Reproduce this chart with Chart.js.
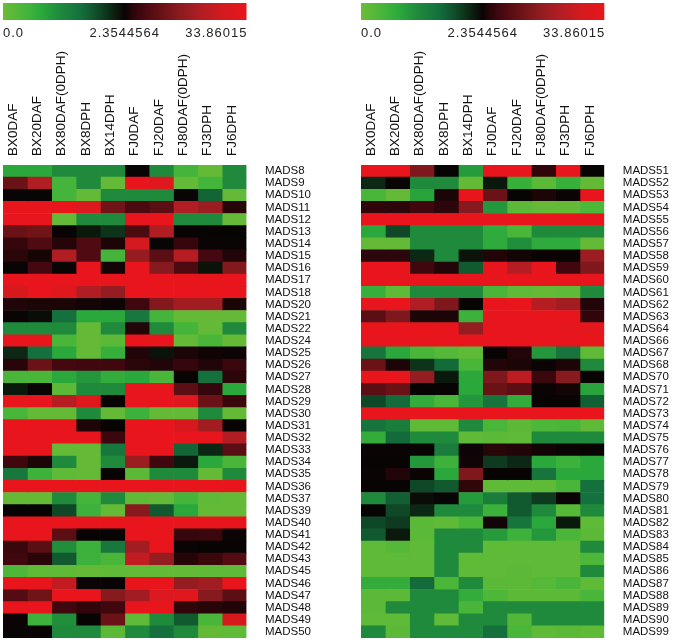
<!DOCTYPE html>
<html>
<head>
<meta charset="utf-8">
<script src="https://cdn.jsdelivr.net/npm/chart.js@4.4.1/dist/chart.umd.min.js"></script>
<style>
  body { margin: 0; background: #fff; width: 675px; height: 643px; overflow: hidden; position: relative; }
  canvas { position: absolute; top: 0; }
  #leftMap { left: 0; }
  #rightMap { left: 358px; }
</style>
</head>
<body>
<canvas id="leftMap" width="360" height="643"></canvas>
<canvas id="rightMap" width="317" height="643"></canvas>
<script>
  const samples = ["BX0DAF", "BX20DAF", "BX80DAF(0DPH)", "BX8DPH", "BX14DPH",
    "FJ0DAF", "FJ20DAF", "FJ80DAF(0DPH)", "FJ3DPH", "FJ6DPH"];

  const scaleMin = 0.0;
  const scaleMid = 2.3544564;
  const scaleMax = 33.86015;
  const scaleLabels = ["0.0", "2.3544564", "33.86015"];

  const leftGenes = ["MADS8", "MADS9", "MADS10", "MADS11", "MADS12", "MADS13", "MADS14",
    "MADS15", "MADS16", "MADS17", "MADS18", "MADS20", "MADS21", "MADS22", "MADS24",
    "MADS25", "MADS26", "MADS27", "MADS28", "MADS29", "MADS30", "MADS31", "MADS32",
    "MADS33", "MADS34", "MADS35", "MADS36", "MADS37", "MADS39", "MADS40", "MADS41",
    "MADS42", "MADS43", "MADS45", "MADS46", "MADS47", "MADS48", "MADS49", "MADS50"];

  const leftExpr = [
    [0.75, 0.75, 1.1, 1.1, 1.1, 2.35, 1.1, 0.45, 0.1, 1.1],
    [12, 22, 0.45, 1.1, 0.1, 33.8, 31, 0.1, 0.45, 1.1],
    [2.35, 2.35, 0.45, 0.1, 1.1, 1.1, 1.1, 2.35, 1.6, 0.1],
    [33.8, 33.8, 33.8, 30, 13, 8, 10, 22, 19, 4],
    [33.8, 33.8, 0.1, 1.1, 1.1, 33.8, 33.8, 1.1, 1.1, 0.1],
    [12, 13, 2.4, 2.2, 2.0, 8, 22, 2.4, 2.4, 2.4],
    [5.5, 8.5, 4, 8.5, 3.5, 28, 2.35, 5.5, 2.5, 2.35],
    [4.5, 3.2, 22, 8.5, 0.45, 18, 10, 23, 7, 3.8],
    [2.35, 7, 2.35, 33.8, 3, 33.8, 16, 8, 2.25, 15.5],
    [33.8, 33.8, 33.8, 33.8, 33.8, 33.8, 33.8, 33.8, 33.8, 33.8],
    [29, 33.8, 31.5, 22, 18, 33.8, 33.8, 33.8, 33.8, 33.8],
    [3.8, 3.4, 3.5, 3, 2.7, 6.5, 15.5, 20, 20, 3.5],
    [2.35, 2.3, 1.5, 0.75, 0.75, 1.4, 0.45, 0.1, 0.1, 0.1],
    [1.1, 1.1, 1.1, 0.1, 1.1, 3.8, 1.1, 0.45, 0.1, 1.1],
    [33.8, 33.8, 0.4, 0.1, 0.2, 33.8, 33.8, 0.1, 0.4, 0.1],
    [2.1, 1.5, 0.75, 0.1, 0.6, 3.8, 2.25, 3.5, 2.8, 2.6],
    [4.2, 12, 7, 6.5, 6.5, 4.5, 3.8, 5.5, 3.8, 6],
    [0.4, 0.4, 0.75, 0.95, 0.65, 0.75, 0.4, 2.4, 1.5, 4.5],
    [2.2, 2.35, 0.2, 1.1, 1.1, 33.8, 33.8, 10, 5.5, 0.75],
    [33.8, 33.8, 23, 31, 2.4, 33.8, 33.8, 31, 12, 6],
    [0.4, 0.1, 0.1, 1.1, 0.1, 0.55, 0.1, 0.1, 1.1, 0.1],
    [33.8, 33.8, 33.8, 3.6, 2.4, 33.8, 33.8, 29, 20, 2.4],
    [33.8, 33.8, 33.8, 33.8, 6, 33.8, 33.8, 33.8, 33.8, 22],
    [33.8, 33.8, 0.1, 0.1, 1.4, 33.8, 33.8, 1.6, 2.1, 10],
    [6.5, 3.5, 1.1, 0.1, 1.1, 19, 6.5, 2.2, 0.75, 0.4],
    [1.4, 0.55, 0.15, 0.1, 2.4, 0.2, 1.1, 1.1, 0.1, 1.1],
    [33.8, 33.8, 33.8, 33.8, 33.8, 33.8, 33.8, 33.8, 33.8, 33.8],
    [0.1, 0.1, 1.1, 0.45, 1.1, 0.15, 0.1, 0.45, 0.15, 0.1],
    [2.4, 2.4, 1.85, 0.55, 0.1, 16, 1.7, 0.75, 0.1, 0.1],
    [33.8, 33.8, 33.8, 33.8, 33.8, 33.8, 33.8, 33.8, 33.8, 33.8],
    [33.8, 33.8, 10, 2.4, 2.4, 33.8, 33.8, 5.5, 6, 2.5],
    [6, 10, 1.05, 0.55, 1.4, 20, 33.8, 2.5, 2.4, 2.4],
    [6.5, 4.2, 1.7, 0.55, 0.4, 25, 18, 4, 6, 9],
    [0.35, 0.15, 0.15, 0.12, 0.15, 0.12, 0.12, 0.12, 0.15, 0.15],
    [33.8, 33.8, 25, 2.6, 2.5, 33.8, 33.8, 18, 20, 33.8],
    [9, 13, 33.8, 33.8, 16, 20, 30, 31.5, 16, 10],
    [33.8, 33.8, 6.5, 5, 6.5, 33.8, 33.8, 5, 4.3, 3.8],
    [2.5, 0.55, 1.05, 2.4, 12, 0.15, 1.1, 1.7, 0.4, 29],
    [2.5, 2.4, 1.1, 1.1, 0.2, 1.1, 1.5, 1.1, 0.1, 0.15]
  ];

  const rightGenes = ["MADS51", "MADS52", "MADS53", "MADS54", "MADS55", "MADS56", "MADS57",
    "MADS58", "MADS59", "MADS60", "MADS61", "MADS62", "MADS63", "MADS64", "MADS66",
    "MADS67", "MADS68", "MADS70", "MADS71", "MADS72", "MADS73", "MADS74", "MADS75",
    "MADS76", "MADS77", "MADS78", "MADS79", "MADS80", "MADS81", "MADS82", "MADS83",
    "MADS84", "MADS85", "MADS86", "MADS87", "MADS88", "MADS89", "MADS90", "MADS99"];

  const rightExpr = [
    [33.8, 33.8, 15, 2.4, 0.9, 33.8, 33.8, 5, 33.8, 2.4],
    [2.1, 2.35, 1.1, 1.1, 0.1, 2.2, 0.6, 0.2, 0.6, 0.1],
    [0.4, 0.1, 0.8, 3.5, 33.8, 12, 2.4, 3.5, 2.5, 33.8],
    [5, 4.6, 6.5, 4.6, 16, 0.95, 0.2, 0.1, 0.1, 0.35],
    [33.8, 33.8, 33.8, 33.8, 33.8, 33.8, 33.8, 33.8, 33.8, 33.8],
    [0.75, 1.85, 1.1, 1.1, 1.1, 0.7, 0.4, 1.1, 1.1, 1.1],
    [0.1, 0.1, 1.1, 1.1, 1.1, 0.7, 1.05, 0.7, 0.7, 0.1],
    [4.6, 4.6, 2.1, 1.1, 2.25, 3.8, 3, 2.5, 2.5, 19],
    [33.8, 33.8, 6.5, 3.8, 1.7, 33.8, 23, 33.8, 6.5, 15],
    [33.8, 33.8, 33.8, 33.8, 33.8, 33.8, 33.8, 33.8, 33.8, 33.8],
    [0.6, 0.15, 1.1, 1.1, 1.1, 0.4, 0.15, 0.1, 0.15, 1.1],
    [33.8, 33.8, 22, 15, 2.4, 33.8, 33.8, 23, 20, 3.8],
    [10, 15, 3.5, 3.5, 0.55, 33.8, 33.8, 33.8, 33.8, 5],
    [33.8, 33.8, 33.8, 33.8, 18, 33.8, 33.8, 33.8, 33, 32.5],
    [33.8, 33.8, 33.8, 33.8, 33.8, 33.8, 33.8, 33.8, 33.8, 33.8],
    [1.45, 0.75, 0.4, 0.25, 0.15, 2.4, 3.8, 0.95, 1.45, 0.15],
    [12, 3.5, 2.0, 1.55, 0.4, 3.8, 3.5, 2.5, 3.5, 1.1],
    [33.8, 33.8, 18, 2.2, 0.75, 15, 24, 6, 16, 2.4],
    [10, 12, 2.4, 2.4, 0.75, 12, 10, 2.5, 3, 0.8],
    [1.85, 1.55, 0.65, 0.4, 0.95, 1.45, 0.65, 2.4, 2.4, 1.65],
    [33.8, 33.8, 33.8, 33.8, 33.8, 33.8, 33.8, 33.8, 33.8, 33.8],
    [1.45, 1.3, 0.15, 0.15, 1.1, 0.4, 0.2, 0.35, 0.4, 0.15],
    [0.65, 1.55, 1.1, 1.1, 0.15, 0.2, 0.15, 1.1, 1.1, 1.1],
    [2.5, 2.45, 2.4, 1.3, 2.6, 4.3, 3.8, 3, 2.5, 2.4],
    [2.4, 2.4, 0.95, 0.55, 2.8, 1.95, 2.1, 0.75, 0.55, 0.75],
    [2.5, 3.8, 2.5, 0.75, 15, 2.4, 2.4, 1.45, 0.75, 0.75],
    [2.4, 2.4, 1.85, 1.7, 5, 0.15, 0.15, 0.15, 0.4, 1.5],
    [1.1, 1.65, 2.3, 2.35, 0.9, 1.3, 1.7, 1.95, 2.5, 1.5],
    [2.4, 1.85, 2.1, 1.1, 1.1, 0.55, 1.7, 1.1, 0.25, 1.1],
    [1.85, 1.95, 0.2, 0.15, 0.4, 3, 1.45, 0.75, 2.2, 0.15],
    [1.7, 2.2, 0.2, 1.1, 1.1, 0.9, 0.55, 0.95, 0.4, 0.2],
    [0.15, 0.25, 0.15, 1.1, 1.1, 0.15, 0.15, 0.15, 0.15, 1.1],
    [0.15, 0.15, 0.15, 1.1, 0.15, 0.15, 0.15, 0.15, 0.15, 0.35],
    [0.15, 0.15, 0.15, 1.1, 0.15, 0.15, 0.2, 0.15, 0.15, 1.1],
    [0.65, 0.65, 1.55, 0.4, 1.1, 0.2, 0.2, 0.25, 0.4, 0.15],
    [0.2, 0.2, 1.1, 1.1, 0.65, 0.35, 0.2, 0.2, 0.2, 0.4],
    [0.2, 1.1, 1.1, 1.1, 0.4, 1.1, 1.1, 1.1, 1.1, 1.1],
    [0.15, 0.15, 1.1, 0.15, 1.1, 1.1, 0.3, 1.1, 1.1, 1.1],
    [1.1, 0.2, 1.1, 1.1, 1.1, 1.5, 0.4, 0.15, 0.2, 0.15]
  ];

  // colour ramp along the legend bar (0 = left end, 1 = right end)
  const rampStops = [
    [0.0, [109, 188, 53]],
    [0.096, [68, 181, 58]],
    [0.16, [42, 168, 60]],
    [0.234, [31, 138, 60]],
    [0.32, [20, 112, 60]],
    [0.39, [15, 74, 40]],
    [0.457, [12, 32, 15]],
    [0.5, [8, 4, 4]],
    [0.526, [37, 5, 8]],
    [0.574, [69, 8, 16]],
    [0.653, [106, 18, 22]],
    [0.733, [142, 28, 32]],
    [0.812, [176, 30, 36]],
    [0.907, [212, 26, 31]],
    [1.0, [232, 22, 28]]
  ];

  function rampPos(v) {
    if (v <= scaleMid) return 0.5 * Math.max(0, v - scaleMin) / (scaleMid - scaleMin);
    return 0.5 + 0.5 * Math.min(1, (v - scaleMid) / (scaleMax - scaleMid));
  }

  function rampColor(p) {
    for (let i = 1; i < rampStops.length; i++) {
      const [p1, c1] = rampStops[i];
      if (p <= p1) {
        const [p0, c0] = rampStops[i - 1];
        const t = (p - p0) / (p1 - p0);
        const c = c0.map((a, k) => Math.round(a + (c1[k] - a) * t));
        return `rgb(${c[0]},${c[1]},${c[2]})`;
      }
    }
    const c = rampStops[rampStops.length - 1][1];
    return `rgb(${c[0]},${c[1]},${c[2]})`;
  }

  const legendBar = {
    id: "legendBar",
    afterDraw(chart) {
      const { ctx, chartArea } = chart;
      const x0 = chartArea.left;
      const x1 = chartArea.right;
      const grad = ctx.createLinearGradient(x0, 0, x1, 0);
      rampStops.forEach(([p]) => grad.addColorStop(p, rampColor(p)));
      ctx.save();
      ctx.fillStyle = grad;
      ctx.fillRect(x0, 3, x1 - x0, 17);
      ctx.fillStyle = "#222";
      ctx.font = "13px 'Liberation Sans', Arial, sans-serif";
      ctx.letterSpacing = "1px";
      ctx.textBaseline = "middle";
      ctx.textAlign = "left";
      ctx.fillText(scaleLabels[0], x0, 33);
      ctx.textAlign = "center";
      ctx.fillText(scaleLabels[1], (x0 + x1) / 2, 33);
      ctx.textAlign = "right";
      ctx.fillText(scaleLabels[2], x1 + 1, 33);
      ctx.restore();
    }
  };

  function makeHeatmap(canvasId, genes, expr, axisWidth) {
    const datasets = samples.map((name, c) => ({
      label: name,
      data: genes.map(() => [c, c + 1]),
      backgroundColor: (ctx) => rampColor(rampPos(expr[ctx.dataIndex][c])),
      borderWidth: 0,
      grouped: false,
      barPercentage: 1,
      categoryPercentage: 1
    }));

    return new Chart(document.getElementById(canvasId).getContext("2d"), {
      type: "bar",
      data: { labels: genes, datasets: datasets },
      options: {
        indexAxis: "y",
        responsive: false,
        animation: false,
        devicePixelRatio: 1,
        layout: { padding: { left: 3, right: 0, top: 0, bottom: 5 } },
        plugins: { legend: { display: false }, tooltip: { enabled: false } },
        scales: {
          x: { type: "linear", min: 0, max: samples.length, display: false },
          cols: {
            type: "category",
            axis: "x",
            labels: samples,
            position: "top",
            offset: true,
            grid: { display: false, drawTicks: false },
            border: { display: false },
            ticks: {
              minRotation: 90,
              maxRotation: 90,
              autoSkip: false,
              padding: 9,
              labelOffset: 14,
              color: "#111",
              font: { family: "'Liberation Sans', Arial, sans-serif", size: 13.5 }
            },
            afterFit: (scale) => {
              scale.height = 165;
              scale.paddingLeft = 0;
              scale.paddingRight = 0;
            }
          },
          y: {
            position: "right",
            offset: true,
            grid: { display: false, drawTicks: false },
            border: { display: false },
            ticks: {
              autoSkip: false,
              padding: 18.5,
              color: "#111",
              font: { family: "'Liberation Sans', Arial, sans-serif", size: 11.5 }
            },
            afterFit: (scale) => {
              scale.width = axisWidth;
              scale.paddingTop = 0;
              scale.paddingBottom = 0;
            }
          }
        }
      },
      plugins: [legendBar]
    });
  }

  makeHeatmap("leftMap", leftGenes, leftExpr, 113.5);
  makeHeatmap("rightMap", rightGenes, rightExpr, 70.7);
</script>
</body>
</html>
